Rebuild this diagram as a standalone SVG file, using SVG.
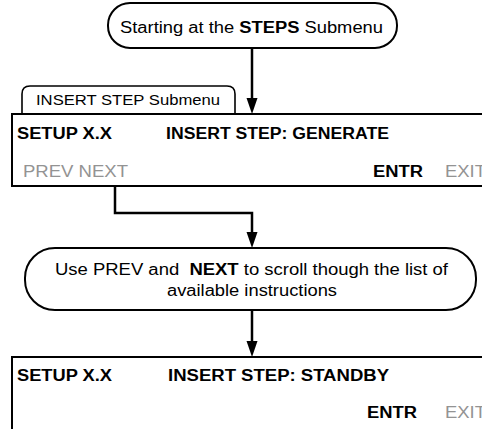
<svg xmlns="http://www.w3.org/2000/svg" width="482" height="429" viewBox="0 0 482 429">
<style>
text{font-family:"Liberation Sans",Arial,sans-serif;fill:#000}
.b{font-weight:bold}
.g{fill:#939393}
.lbl{font-size:16px}
.box{fill:#fff;stroke:#000;stroke-width:2}
.oval{fill:#fff;stroke:#000;stroke-width:2}
.conn{fill:none;stroke:#000;stroke-width:2.5}
</style>
<defs>
<marker id="ah" markerUnits="userSpaceOnUse" markerWidth="16" markerHeight="12" refX="0" refY="6" orient="auto" overflow="visible">
<path d="M0,0.5 L16,6 L0,11.5 z" fill="#000"/>
</marker>
</defs>
<rect width="482" height="429" fill="#fff"/>

<g id="start">
<rect class="oval" x="108" y="3" width="289" height="45" rx="22" ry="22"/>
<text class="lbl" x="120" y="33" textLength="263" lengthAdjust="spacingAndGlyphs">Starting at the <tspan class="b">STEPS</tspan> Submenu</text>
</g>

<g id="tab">
<path d="M22,114 L22,94 Q22,86 30,86 L227,86 Q235,86 235,94 L235,114" fill="#fff" stroke="#000" stroke-width="1.6"/>
<text x="36" y="105" font-size="15" textLength="184" lengthAdjust="spacingAndGlyphs">INSERT STEP Submenu</text>
</g>

<g id="screen1">
<path class="box" d="M484,114 L12,114 L12,186 L484,186" fill="#fff"/>
<text class="b" x="17" y="139" font-size="16" textLength="95" lengthAdjust="spacingAndGlyphs">SETUP X.X</text>
<text class="b" x="166" y="139" font-size="16" textLength="223" lengthAdjust="spacingAndGlyphs">INSERT STEP: GENERATE</text>
<text class="g" x="23" y="177" font-size="16" textLength="105" lengthAdjust="spacingAndGlyphs">PREV NEXT</text>
<text class="b" x="373" y="177" font-size="16" textLength="50" lengthAdjust="spacingAndGlyphs">ENTR</text>
<text class="g" x="445" y="177" font-size="16" textLength="41" lengthAdjust="spacingAndGlyphs">EXIT</text>
</g>

<g id="usePrevNext">
<rect class="oval" x="25" y="248" width="451" height="62" rx="30" ry="30"/>
<text x="55" y="275" font-size="16" style="white-space:pre" textLength="393" lengthAdjust="spacingAndGlyphs">Use PREV and  <tspan class="b">NEXT</tspan> to scroll though the list of</text>
<text x="167" y="296" font-size="16" textLength="170" lengthAdjust="spacingAndGlyphs">available instructions</text>
</g>

<g id="screen2">
<path class="box" d="M484,357 L12,357 L12,432" fill="#fff"/>
<text class="b" x="17" y="381" font-size="16" textLength="95" lengthAdjust="spacingAndGlyphs">SETUP X.X</text>
<text class="b" x="168" y="381" font-size="16" textLength="221" lengthAdjust="spacingAndGlyphs">INSERT STEP: STANDBY</text>
<text class="b" x="367" y="418" font-size="16" textLength="50" lengthAdjust="spacingAndGlyphs">ENTR</text>
<text class="g" x="445" y="418" font-size="16" textLength="41" lengthAdjust="spacingAndGlyphs">EXIT</text>
</g>

<g id="connectors">
<path class="conn" d="M252,48 L252,98" marker-end="url(#ah)"/>
<path class="conn" d="M115,186 L115,213 L252,213 L252,232" marker-end="url(#ah)"/>
<path class="conn" d="M252,310 L252,341" marker-end="url(#ah)"/>
</g>
</svg>
